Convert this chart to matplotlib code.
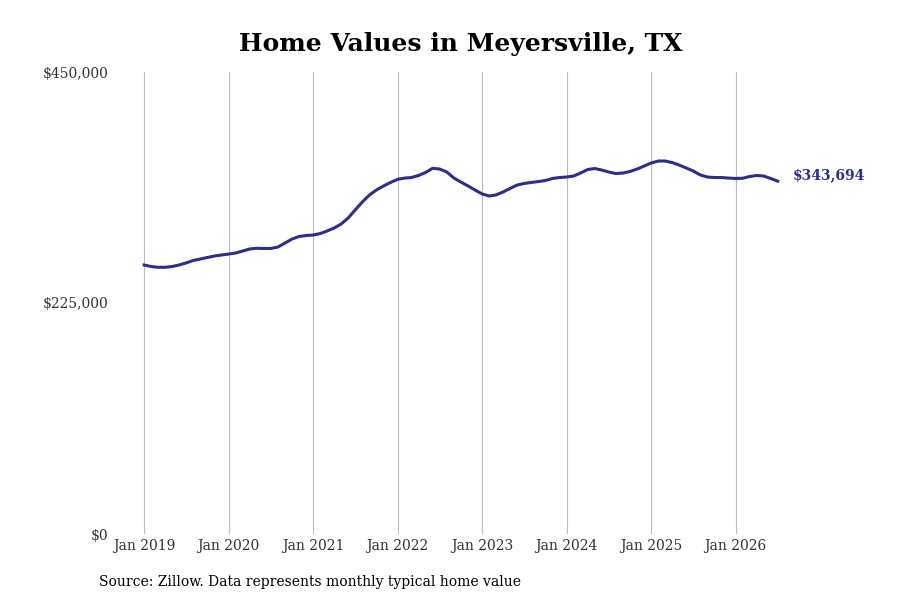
import pandas as pd
import matplotlib
matplotlib.use('Agg')
import matplotlib.pyplot as plt

plt.rcParams['font.family'] = ['DejaVu Serif']

start = '2019-01-01'
values = [
    262000, 260500, 259800, 259800, 260500, 262000, 264000, 266400, 267850, 269300, 270800, 271700,
    272700, 273700, 275600, 277600, 278300, 278100, 278100, 279500, 283400, 287300, 289800, 290700,
    291200, 292700, 295100, 298000, 301900, 307800, 315600, 323400, 330200, 335100, 339000, 342400,
    345500, 346700, 347200, 349200, 352100, 356200, 355500, 352600, 346700, 342800, 339000, 335100,
    331200, 329200, 330200, 333100, 336500, 339900, 341400, 342400, 343300, 344300, 346300, 347200,
    347700, 348700, 351600, 355000, 356000, 354500, 352600, 351100, 351600, 353100, 355500, 358400,
    361400, 363300, 363300, 361800, 359400, 356500, 353600, 349700, 347700, 347200, 347200, 346700,
    346300, 346500, 348200, 349200, 348700, 346300, 343694,
]
dates = pd.date_range(start, periods=len(values), freq='MS')
years = list(range(2019, 2027))
yticks = [0, 225000, 450000]
ytick_labels = ['$0', '$225,000', '$450,000']
last_label = '$343,694'

line_color = '#2d2d8c'

fig = plt.figure(figsize=(9, 6), dpi=100)
ax = fig.add_axes([0.128, 0.11, 0.744, 0.77])

ax.plot(dates, values, color=line_color, linewidth=2.2)

ax.set_ylim(0, 450000)
ax.set_xlim(pd.Timestamp('2018-08-29'), pd.Timestamp('2026-08-01'))

ax.set_xticks([pd.Timestamp(f'{y}-01-01') for y in years])
ax.set_xticklabels([f'Jan {y}' for y in years], fontsize=10, color='#333333')
ax.set_yticks(yticks)
ax.set_yticklabels(ytick_labels, fontsize=10, color='#333333')
ax.tick_params(axis='both', length=0)
ax.tick_params(axis='x', pad=3.5)
ax.tick_params(axis='y', pad=5)

ax.grid(axis='x', color='#bbbbbb', linewidth=0.8)
ax.grid(axis='y', visible=False)
for s in ax.spines.values():
    s.set_visible(False)

ax.annotate(last_label, xy=(dates[-1], values[-1]), xytext=(11, 4),
            textcoords='offset points', color=line_color, fontsize=10,
            fontweight='bold', va='center', ha='left', annotation_clip=False)

fig.text(0.512, 0.927, 'Home Values in Meyersville, TX', ha='center', va='center',
         fontsize=18, fontweight='bold')
fig.text(0.11, 0.03, 'Source: Zillow. Data represents monthly typical home value',
         ha='left', va='center', fontsize=10)

fig.savefig('out.png', dpi=100)
